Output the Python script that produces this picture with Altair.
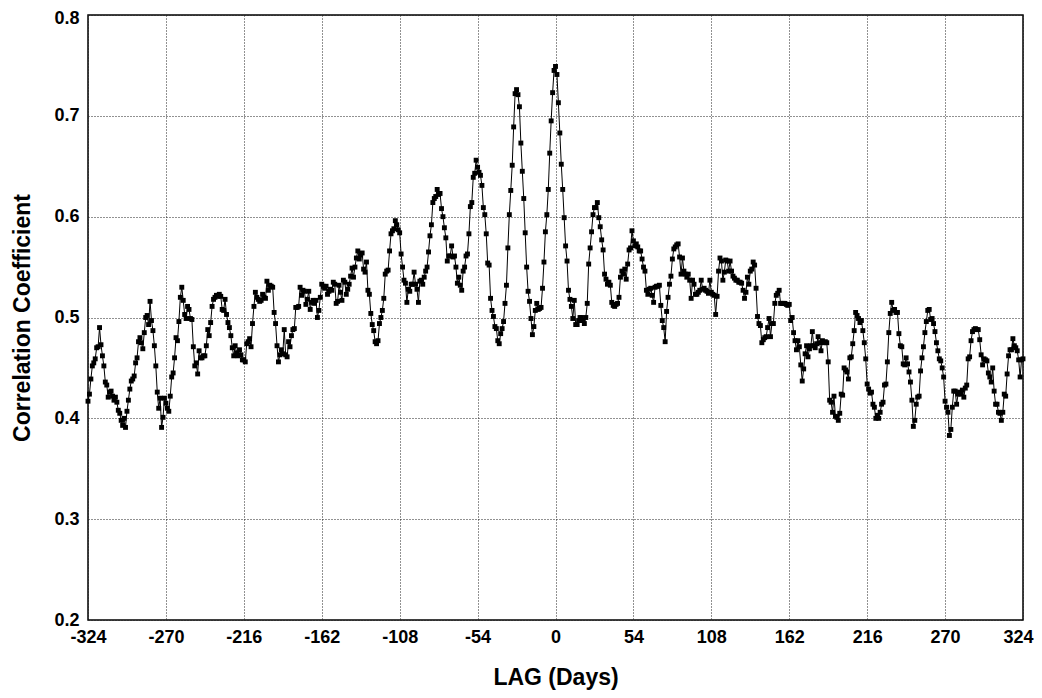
import altair as alt
import pandas as pd
import numpy as np

# Correlation coefficient per day of lag, one list per 54-day span
seg_m324 = [0.417, 0.424, 0.439, 0.452, 0.455, 0.459, 0.470, 0.471, 0.490, 0.473, 0.462, 0.452, 0.436, 0.433, 0.421, 0.426, 0.427, 0.422, 0.418, 0.421, 0.416, 0.408, 0.405, 0.398, 0.393, 0.400, 0.391, 0.407, 0.418, 0.429, 0.437, 0.439, 0.442, 0.455, 0.460, 0.476, 0.480, 0.475, 0.469, 0.485, 0.500, 0.502, 0.493, 0.516, 0.497, 0.487, 0.472, 0.452, 0.426, 0.410, 0.420, 0.391, 0.401, 0.420]
seg_m270 = [0.415, 0.410, 0.407, 0.422, 0.441, 0.445, 0.460, 0.480, 0.477, 0.496, 0.520, 0.530, 0.517, 0.503, 0.499, 0.511, 0.508, 0.499, 0.498, 0.471, 0.452, 0.455, 0.444, 0.467, 0.460, 0.460, 0.462, 0.462, 0.472, 0.488, 0.482, 0.495, 0.511, 0.518, 0.520, 0.522, 0.521, 0.523, 0.521, 0.508, 0.507, 0.518, 0.503, 0.495, 0.490, 0.482, 0.470, 0.462, 0.472, 0.465, 0.462, 0.468, 0.463, 0.458]
seg_m216 = [0.458, 0.456, 0.474, 0.476, 0.479, 0.471, 0.494, 0.511, 0.525, 0.520, 0.518, 0.516, 0.517, 0.523, 0.520, 0.519, 0.536, 0.527, 0.532, 0.531, 0.530, 0.505, 0.494, 0.472, 0.456, 0.463, 0.468, 0.464, 0.488, 0.463, 0.461, 0.476, 0.471, 0.482, 0.488, 0.489, 0.510, 0.510, 0.511, 0.530, 0.522, 0.527, 0.526, 0.513, 0.518, 0.526, 0.508, 0.515, 0.517, 0.514, 0.517, 0.500, 0.507, 0.520]
seg_m162 = [0.533, 0.531, 0.529, 0.531, 0.523, 0.526, 0.528, 0.527, 0.535, 0.533, 0.514, 0.516, 0.532, 0.525, 0.517, 0.537, 0.535, 0.523, 0.528, 0.533, 0.541, 0.549, 0.540, 0.550, 0.559, 0.566, 0.558, 0.562, 0.564, 0.548, 0.545, 0.555, 0.527, 0.523, 0.504, 0.493, 0.487, 0.476, 0.474, 0.477, 0.494, 0.500, 0.507, 0.519, 0.543, 0.546, 0.547, 0.566, 0.583, 0.586, 0.588, 0.596, 0.592, 0.587]
seg_m108 = [0.584, 0.563, 0.550, 0.537, 0.534, 0.515, 0.528, 0.526, 0.533, 0.533, 0.545, 0.533, 0.528, 0.515, 0.536, 0.537, 0.533, 0.540, 0.546, 0.550, 0.565, 0.581, 0.592, 0.614, 0.618, 0.620, 0.627, 0.622, 0.623, 0.608, 0.600, 0.589, 0.579, 0.556, 0.561, 0.561, 0.571, 0.560, 0.561, 0.550, 0.534, 0.540, 0.532, 0.527, 0.546, 0.550, 0.561, 0.563, 0.583, 0.610, 0.614, 0.639, 0.643, 0.656]
seg_m54 = [0.649, 0.644, 0.641, 0.631, 0.609, 0.602, 0.583, 0.554, 0.552, 0.519, 0.507, 0.501, 0.491, 0.489, 0.477, 0.474, 0.484, 0.489, 0.496, 0.514, 0.532, 0.569, 0.602, 0.626, 0.651, 0.689, 0.722, 0.726, 0.721, 0.709, 0.673, 0.645, 0.618, 0.584, 0.550, 0.526, 0.516, 0.499, 0.483, 0.491, 0.507, 0.514, 0.508, 0.509, 0.510, 0.529, 0.555, 0.585, 0.602, 0.627, 0.663, 0.695, 0.723, 0.745]
seg_0 = [0.749, 0.741, 0.713, 0.683, 0.652, 0.627, 0.599, 0.571, 0.556, 0.527, 0.518, 0.511, 0.499, 0.517, 0.493, 0.493, 0.497, 0.500, 0.500, 0.497, 0.494, 0.500, 0.514, 0.553, 0.569, 0.585, 0.602, 0.609, 0.609, 0.614, 0.599, 0.590, 0.577, 0.567, 0.543, 0.538, 0.533, 0.535, 0.532, 0.515, 0.512, 0.511, 0.513, 0.514, 0.520, 0.540, 0.546, 0.543, 0.548, 0.538, 0.553, 0.567, 0.569, 0.586]
seg_54 = [0.576, 0.571, 0.573, 0.570, 0.566, 0.566, 0.558, 0.550, 0.546, 0.527, 0.523, 0.528, 0.529, 0.522, 0.515, 0.530, 0.531, 0.531, 0.532, 0.512, 0.497, 0.490, 0.476, 0.506, 0.520, 0.533, 0.541, 0.558, 0.568, 0.570, 0.572, 0.573, 0.560, 0.543, 0.559, 0.546, 0.543, 0.540, 0.543, 0.537, 0.519, 0.537, 0.533, 0.523, 0.523, 0.525, 0.527, 0.537, 0.528, 0.529, 0.527, 0.526, 0.524, 0.537]
seg_108 = [0.525, 0.523, 0.522, 0.503, 0.521, 0.546, 0.559, 0.556, 0.537, 0.545, 0.557, 0.556, 0.546, 0.556, 0.546, 0.541, 0.539, 0.537, 0.537, 0.535, 0.535, 0.534, 0.527, 0.519, 0.525, 0.540, 0.533, 0.546, 0.548, 0.555, 0.552, 0.529, 0.501, 0.494, 0.492, 0.475, 0.478, 0.480, 0.481, 0.490, 0.499, 0.481, 0.494, 0.494, 0.514, 0.522, 0.524, 0.527, 0.514, 0.514, 0.514, 0.514, 0.513, 0.512]
seg_162 = [0.513, 0.497, 0.500, 0.485, 0.477, 0.468, 0.477, 0.471, 0.453, 0.437, 0.449, 0.464, 0.472, 0.461, 0.469, 0.472, 0.486, 0.472, 0.470, 0.474, 0.481, 0.475, 0.467, 0.477, 0.475, 0.476, 0.475, 0.456, 0.418, 0.416, 0.406, 0.422, 0.402, 0.401, 0.398, 0.405, 0.424, 0.423, 0.450, 0.448, 0.446, 0.439, 0.460, 0.461, 0.474, 0.487, 0.505, 0.502, 0.499, 0.495, 0.497, 0.487, 0.475, 0.459]
seg_216 = [0.434, 0.429, 0.425, 0.426, 0.414, 0.411, 0.400, 0.403, 0.400, 0.406, 0.414, 0.416, 0.433, 0.434, 0.456, 0.485, 0.504, 0.515, 0.507, 0.508, 0.505, 0.505, 0.484, 0.472, 0.471, 0.454, 0.453, 0.460, 0.454, 0.446, 0.436, 0.418, 0.392, 0.398, 0.414, 0.421, 0.422, 0.447, 0.460, 0.471, 0.485, 0.496, 0.507, 0.508, 0.498, 0.499, 0.494, 0.486, 0.475, 0.467, 0.459, 0.457, 0.450, 0.441]
seg_270 = [0.417, 0.411, 0.406, 0.383, 0.389, 0.411, 0.427, 0.427, 0.414, 0.424, 0.426, 0.424, 0.428, 0.421, 0.430, 0.433, 0.459, 0.461, 0.477, 0.486, 0.488, 0.489, 0.488, 0.488, 0.478, 0.463, 0.453, 0.459, 0.458, 0.457, 0.445, 0.441, 0.436, 0.450, 0.427, 0.414, 0.414, 0.406, 0.405, 0.398, 0.406, 0.424, 0.422, 0.444, 0.462, 0.468, 0.468, 0.479, 0.472, 0.470, 0.467, 0.458, 0.441, 0.458, 0.459]

x_ticks = [-324, -270, -216, -162, -108, -54, 0, 54, 108, 162, 216, 270, 324]
y_ticks = [0.2, 0.3, 0.4, 0.5, 0.6, 0.7, 0.8]

values = (seg_m324 + seg_m270 + seg_m216 + seg_m162 + seg_m108 + seg_m54 + seg_0
          + seg_54 + seg_108 + seg_162 + seg_216 + seg_270)
lags = list(range(x_ticks[0], x_ticks[0] + len(values)))

df = pd.DataFrame({"lag": lags, "corr": values})

FONT = "Liberation Sans"

chart = alt.Chart(df).mark_line(
    color="black", strokeWidth=1,
    point=alt.OverlayMarkDef(shape="square", size=24, filled=True, color="black", opacity=1),
).encode(
    x=alt.X("lag:Q", scale=alt.Scale(domain=[-324, 324], nice=False, zero=False),
            axis=alt.Axis(values=x_ticks, title="LAG (Days)", labelFlush=False,
                          labelExpr="'' + datum.value",
                          labelOffset={"condition": {"test": "datum.value == 324", "value": -5},
                                       "value": 0})),
    y=alt.Y("corr:Q", scale=alt.Scale(domain=[0.2, 0.8], nice=False, zero=False),
            axis=alt.Axis(values=y_ticks, title="Correlation Coefficient", format=".1f",
                          labelFlush=False,
                          labelOffset={"condition": {"test": "datum.value > 0.79", "value": 3},
                                       "value": 0})),
).properties(
    width=935, height=605,
    autosize=alt.AutoSizeParams(type="none"),
    padding={"left": 80, "top": 7, "right": 11, "bottom": 70},
).configure_view(
    stroke="black", strokeWidth=1.5,
).configure_axis(
    labelFont=FONT, labelFontWeight="bold", labelFontSize=18, labelColor="black",
    titleFont=FONT, titleFontWeight="bold", titleFontSize=23, titleColor="black",
    grid=True, gridColor="#222", gridDash=[1, 2], gridWidth=1, gridOpacity=1,
    domain=False, ticks=False, labelOverlap=False,
).configure_axisX(
    labelPadding=8, titlePadding=20,
).configure_axisY(
    labelPadding=9, titlePadding=19,
)

chart.save("out.html", embed_options={"renderer": "svg", "actions": False})
